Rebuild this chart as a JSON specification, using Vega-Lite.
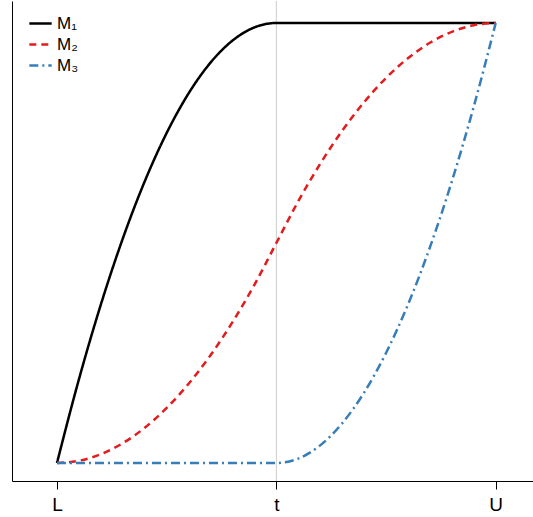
{
  "$schema": "https://vega.github.io/schema/vega-lite/v6.json",
  "width": 521,
  "height": 480,
  "padding": {"left": 12, "top": 0, "right": 0, "bottom": 5},
  "config": {"view": {"stroke": null}, "font": "Liberation Sans"},
  "layer": [
    {
      "data": {"values": [{"x": 1}]},
      "mark": {"type": "rule", "color": "#cccccc", "strokeWidth": 1},
      "encoding": {"x": {"field": "x", "type": "quantitative"}}
    },
    {
      "data": {"values": [
        {"m": "M₁", "x": 0, "y": 0}, {"m": "M₁", "x": 0.1, "y": 0.19}, {"m": "M₁", "x": 0.2, "y": 0.36},
        {"m": "M₁", "x": 0.3, "y": 0.51}, {"m": "M₁", "x": 0.4, "y": 0.64}, {"m": "M₁", "x": 0.5, "y": 0.75},
        {"m": "M₁", "x": 0.6, "y": 0.84}, {"m": "M₁", "x": 0.7, "y": 0.91}, {"m": "M₁", "x": 0.8, "y": 0.96},
        {"m": "M₁", "x": 0.9, "y": 0.99}, {"m": "M₁", "x": 1, "y": 1}, {"m": "M₁", "x": 2, "y": 1},
        {"m": "M₂", "x": 0, "y": 0}, {"m": "M₂", "x": 0.1, "y": 0.005}, {"m": "M₂", "x": 0.2, "y": 0.02},
        {"m": "M₂", "x": 0.3, "y": 0.045}, {"m": "M₂", "x": 0.4, "y": 0.08}, {"m": "M₂", "x": 0.5, "y": 0.125},
        {"m": "M₂", "x": 0.6, "y": 0.18}, {"m": "M₂", "x": 0.7, "y": 0.245}, {"m": "M₂", "x": 0.8, "y": 0.32},
        {"m": "M₂", "x": 0.9, "y": 0.405}, {"m": "M₂", "x": 1, "y": 0.5}, {"m": "M₂", "x": 1.1, "y": 0.595},
        {"m": "M₂", "x": 1.2, "y": 0.68}, {"m": "M₂", "x": 1.3, "y": 0.755}, {"m": "M₂", "x": 1.4, "y": 0.82},
        {"m": "M₂", "x": 1.5, "y": 0.875}, {"m": "M₂", "x": 1.6, "y": 0.92}, {"m": "M₂", "x": 1.7, "y": 0.955},
        {"m": "M₂", "x": 1.8, "y": 0.98}, {"m": "M₂", "x": 1.9, "y": 0.995}, {"m": "M₂", "x": 2, "y": 1},
        {"m": "M₃", "x": 0, "y": 0}, {"m": "M₃", "x": 1, "y": 0}, {"m": "M₃", "x": 1.1, "y": 0.01},
        {"m": "M₃", "x": 1.2, "y": 0.04}, {"m": "M₃", "x": 1.3, "y": 0.09}, {"m": "M₃", "x": 1.4, "y": 0.16},
        {"m": "M₃", "x": 1.5, "y": 0.25}, {"m": "M₃", "x": 1.6, "y": 0.36}, {"m": "M₃", "x": 1.7, "y": 0.49},
        {"m": "M₃", "x": 1.8, "y": 0.64}, {"m": "M₃", "x": 1.9, "y": 0.81}, {"m": "M₃", "x": 2, "y": 1}
      ]},
      "mark": {"type": "line", "strokeWidth": 2.5, "interpolate": "monotone"},
      "encoding": {
        "x": {"field": "x", "type": "quantitative", "scale": {"domain": [-0.205, 2.17], "nice": false, "zero": false},
          "axis": {"title": null, "grid": false, "values": [0, 1, 2], "labelExpr": "datum.value == 0 ? 'L' : datum.value == 1 ? 't' : 'U'", "labelFontSize": 19, "labelColor": "black", "tickColor": "black", "domainColor": "black", "tickSize": 8, "labelPadding": 6}},
        "y": {"field": "y", "type": "quantitative", "scale": {"domain": [-0.041, 1.05], "nice": false, "zero": false},
          "axis": {"title": null, "grid": false, "labels": false, "ticks": false, "domainColor": "black"}},
        "color": {"field": "m", "type": "nominal", "scale": {"domain": ["M₁", "M₂", "M₃"], "range": ["black", "#E41A1C", "#377EB8"]},
          "legend": {"title": null, "orient": "none", "legendX": 16, "legendY": 10, "symbolType": "stroke", "symbolSize": 500, "symbolStrokeWidth": 2.5, "labelFontSize": 17, "labelColor": "black", "rowPadding": 0}},
        "strokeDash": {"field": "m", "type": "nominal", "scale": {"domain": ["M₁", "M₂", "M₃"], "range": [[1, 0], [7, 5], [9, 4, 2, 4]]}}
      }
    }
  ]
}
